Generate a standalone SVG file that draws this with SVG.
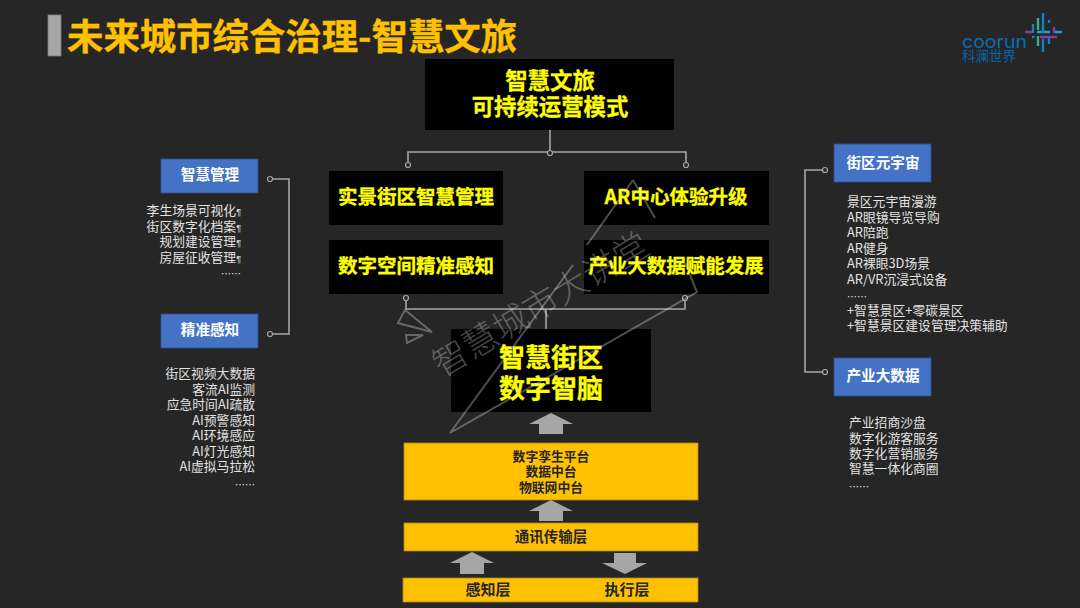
<svg xmlns="http://www.w3.org/2000/svg" width="1080" height="608" viewBox="0 0 1080 608">
<style>
text{font-family:"Noto Sans CJK SC","Liberation Sans",sans-serif}
.black{fill:#000}
.y{fill:#ff0;font-weight:700;text-anchor:middle;stroke:#ff0;stroke-width:.3}
.blue{fill:#4472c4;stroke:#2f528f;stroke-width:.8}
.bl{fill:#fff;font-size:14.6px;font-weight:700;text-anchor:middle}
.li{fill:#e2e2e2;font-size:12.8px}
.r{text-anchor:end}
.dots{font-size:10px}
.gold{fill:#ffc000;stroke:#a98a20;stroke-width:.8}
.dk{fill:#262626;font-weight:700;text-anchor:middle;font-size:12.8px}
.dk2{font-size:14.5px}
.dk3{font-size:15px}
.c{fill:none;stroke:#a6a6a6;stroke-width:1.6}
.d{fill:#262626;stroke:#a6a6a6;stroke-width:1.2}
.ar{fill:#a6a6a6}
.wm{fill:none;stroke:#fff;stroke-opacity:.3;stroke-width:2}
.pm{font-size:9px;font-family:"Liberation Sans",sans-serif}
</style>
<rect width="1080" height="608" fill="#262626"/>
<g id="title">
<rect x="48" y="15" width="13" height="41" fill="#a6a6a6" stroke="#7f7f7f" stroke-width=".8"/>
<text x="67" y="50" font-size="36.4" font-weight="700" fill="#ffc000" stroke="#ffc000" stroke-width=".4">未来城市综合治理-智慧文旅</text>
</g>
<g id="logo">
<text x="962" y="48" font-size="18" fill="#0a6cb5" style="font-family:Inter,sans-serif" textLength="65" lengthAdjust="spacingAndGlyphs">coorun</text>
<text x="962" y="61" font-size="13.5" fill="#0a62a8">科澜世界</text>
<g fill="none" stroke-width="2.4">
<path d="M1025 32h7M1040 37h17" stroke="#8e3a96"/>
<path d="M1037 32h13M1054 32h8" stroke="#1fa6c4"/>
<path d="M1032 37h2.500" stroke="#1c89c4"/>
<path d="M1033 24v9M1049 20v3M1049 38v6M1043 13v20M1043 39v13" stroke="#1580c8"/>
<path d="M1054 27v6" stroke="#8e3a96"/>
<path d="M1038 18v12M1038 36v10" stroke="#33b08a"/>
</g>
</g>
<g id="connectors">
<path class="c" d="M550 130V152M408 162V152H686V162"/>
<circle class="d" cx="408" cy="165" r="2.5"/><circle class="d" cx="550" cy="153" r="2.500"/><circle class="d" cx="686" cy="165" r="2.500"/>
<path class="c" d="M406 298V309H685V298M546 309V333"/>
<circle class="d" cx="406" cy="298" r="2.500"/><circle class="d" cx="685" cy="298" r="2.500"/><circle class="d" cx="546" cy="335" r="2.500"/>
<path class="c" d="M270 179H289V334H270"/>
<circle class="d" cx="270" cy="179" r="2.500"/><circle class="d" cx="270" cy="334" r="2.500"/>
<path class="c" d="M825 170H805V372H825"/>
<circle class="d" cx="825" cy="170" r="2.500"/><circle class="d" cx="825" cy="372" r="2.500"/>
</g>
<g id="n-top"><rect class="black" x="425" y="59" width="249" height="71"/>
<text class="y" x="550" y="89" font-size="22.400">智慧文旅</text><text class="y" x="550" y="115" font-size="22.400">可持续运营模式</text></g>
<g id="n-a"><rect class="black" x="329" y="171" width="174" height="54"/><text class="y" x="416" y="204" font-size="19.500">实景街区智慧管理</text></g>
<g id="n-b"><rect class="black" x="584" y="171" width="185" height="54"/><text class="y" x="676" y="204" font-size="19.500">AR中心体验升级</text></g>
<g id="n-c"><rect class="black" x="329" y="240" width="174" height="54"/><text class="y" x="416" y="273" font-size="19.500">数字空间精准感知</text></g>
<g id="n-d"><rect class="black" x="584" y="240" width="185" height="54"/><text class="y" x="676" y="273" font-size="19.500">产业大数据赋能发展</text></g>
<g id="n-brain"><rect class="black" x="451" y="329" width="200" height="83"/>
<text class="y" x="551" y="367" font-size="26">智慧街区</text><text class="y" x="551" y="398" font-size="26">数字智脑</text></g>
<g id="n-mgmt"><rect class="blue" x="161" y="159" width="97" height="34"/><text class="bl" x="210" y="180">智慧管理</text></g>
<g id="n-sense"><rect class="blue" x="161" y="314" width="97" height="34"/><text class="bl" x="210" y="335">精准感知</text></g>
<g id="n-meta"><rect class="blue" x="834" y="144" width="97" height="38"/><text class="bl" x="883" y="168">街区元宇宙</text></g>
<g id="n-data"><rect class="blue" x="834" y="358" width="97" height="38"/><text class="bl" x="883" y="381">产业大数据</text></g>
<g id="list-mgmt">
<text class="li r" x="241" y="215">李生场景可视化<tspan class="pm">¶</tspan></text>
<text class="li r" x="241" y="231">街区数字化档案<tspan class="pm">¶</tspan></text>
<text class="li r" x="241" y="246">规划建设管理<tspan class="pm">¶</tspan></text>
<text class="li r" x="241" y="262">房屋征收管理<tspan class="pm">¶</tspan></text>
<text class="li r dots" x="241" y="278">……</text>
</g>
<g id="list-sense">
<text class="li r" x="255" y="378">街区视频大数据</text>
<text class="li r" x="255" y="394">客流AI监测</text>
<text class="li r" x="255" y="409">应急时间AI疏散</text>
<text class="li r" x="255" y="425">AI预警感知</text>
<text class="li r" x="255" y="440">AI环境感应</text>
<text class="li r" x="255" y="456">AI灯光感知</text>
<text class="li r" x="255" y="471">AI虚拟马拉松</text>
<text class="li r dots" x="255" y="489">……</text>
</g>
<g id="list-meta">
<text class="li" x="847" y="206">景区元宇宙漫游</text>
<text class="li" x="847" y="222">AR眼镜导览导购</text>
<text class="li" x="847" y="237">AR陪跑</text>
<text class="li" x="847" y="253">AR健身</text>
<text class="li" x="847" y="268">AR裸眼3D场景</text>
<text class="li" x="847" y="284">AR/VR沉浸式设备</text>
<text class="li dots" x="847" y="301">……</text>
<text class="li" x="847" y="315">+智慧景区+零碳景区</text>
<text class="li" x="847" y="330">+智慧景区建设管理决策辅助</text>
</g>
<g id="list-data">
<text class="li" x="849" y="427">产业招商沙盘</text>
<text class="li" x="849" y="443">数字化游客服务</text>
<text class="li" x="849" y="458">数字化营销服务</text>
<text class="li" x="849" y="473">智慧一体化商圈</text>
<text class="li dots" x="849" y="491">……</text>
</g>
<g id="n-platform"><rect class="gold" x="404" y="443" width="294" height="57"/>
<text class="dk" x="551" y="461">数字孪生平台</text><text class="dk" x="551" y="476">数据中台</text><text class="dk" x="551" y="492">物联网中台</text></g>
<g id="n-comm"><rect class="gold" x="404" y="523" width="294" height="28"/><text class="dk dk2" x="551" y="542">通讯传输层</text></g>
<g id="n-base"><rect class="gold" x="403" y="578" width="295" height="24"/>
<text class="dk dk3" x="488" y="595">感知层</text><text class="dk dk3" x="627" y="595">执行层</text></g>
<g id="arrows">
<polygon class="ar" points="551,413 573,424 563,424 563,434 539,434 539,424 529,424"/>
<polygon class="ar" points="551,500 573,511 563,511 563,521 539,521 539,511 529,511"/>
<polygon class="ar" points="472,552 494,563 484,563 484,574 460,574 460,563 450,563"/>
<polygon class="ar" points="625,574 647,563 636,563 636,553 614,553 614,563 602,563"/>
</g>
<g id="watermark">
<path class="wm" d="M450 433L573 265M633 180L587 245M633 180L655 218M450 433L697 292L685 263M398 323L405 310L432 332ZM406 335H423L407 343Z"/>
<text transform="translate(547 315) rotate(-31)" font-size="35" fill="#fff" fill-opacity=".28" text-anchor="middle" font-weight="300">智慧城市大讲堂</text>
</g>
</svg>
